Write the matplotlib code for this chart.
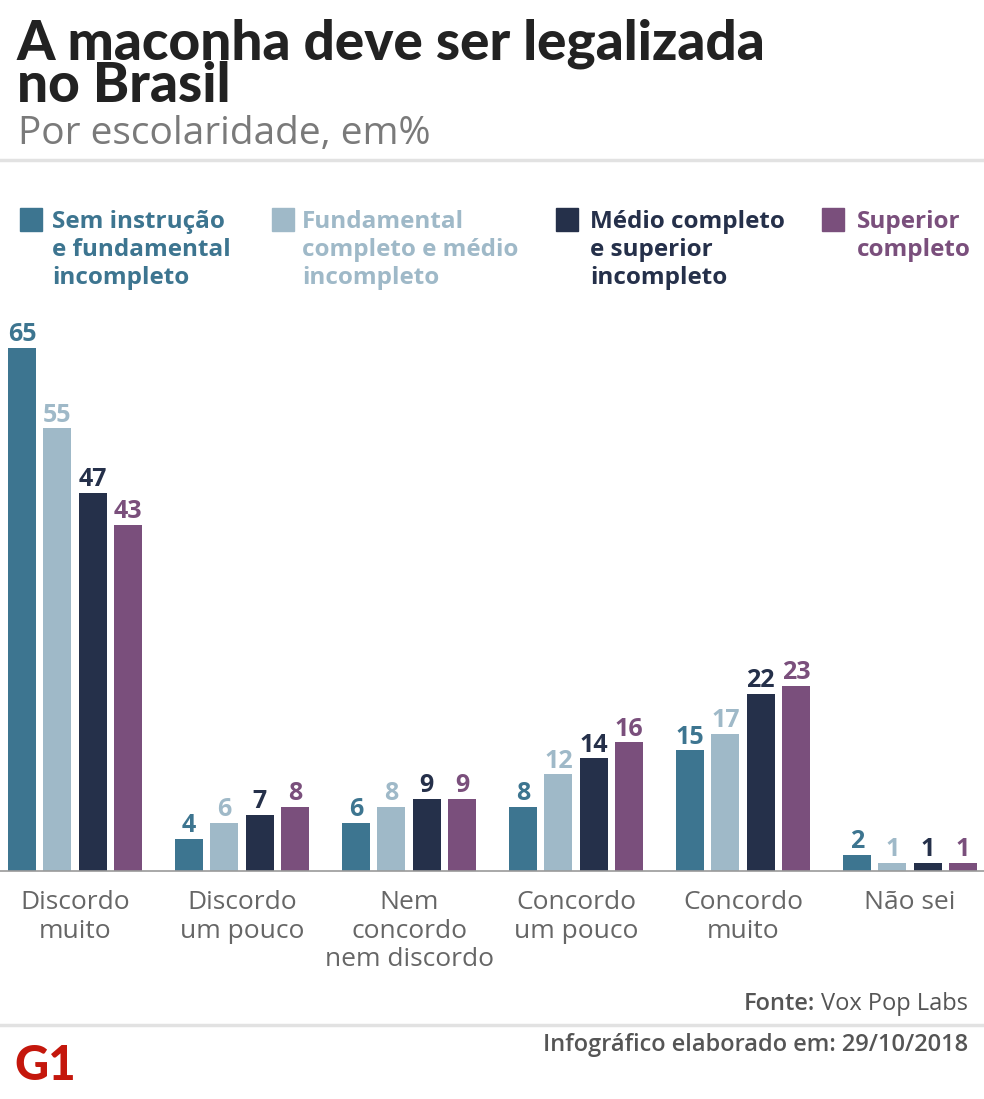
import numpy as np
import matplotlib
matplotlib.use("Agg")
import matplotlib.pyplot as plt
from matplotlib.patches import Rectangle

# data
categories = ["Discordo\nmuito", "Discordo\num pouco", "Nem\nconcordo\nnem discordo",
              "Concordo\num pouco", "Concordo\nmuito", "Não sei"]
series_names = ["Sem instrução\ne fundamental\nincompleto",
                "Fundamental\ncompleto e médio\nincompleto",
                "Médio completo\ne superior\nincompleto",
                "Superior\ncompleto"]
sem_instrucao = [65, 4, 6, 8, 15, 2]
fundamental = [55, 6, 8, 12, 17, 1]
medio = [47, 7, 9, 14, 22, 1]
superior = [43, 8, 9, 16, 23, 1]
series = [sem_instrucao, fundamental, medio, superior]
colors = ["#3d7590", "#9fb9c8", "#25304a", "#7a4f7c"]

W, H = 984, 1099
fig = plt.figure(figsize=(W / 100, H / 100), dpi=100)
fig.patch.set_facecolor("white")


def fx(x):
    return x / W


def fy(y):
    return 1 - y / H


# chart area: baseline at y=871, top at y=300
ax = fig.add_axes([0, fy(871), 1, (871 - 300) / H])
x = np.arange(len(categories))
pitch, width = 0.2114, 0.1677
for i, (vals, c) in enumerate(zip(series, colors)):
    pos = x + (i - 1.5) * pitch
    bars = ax.bar(pos, vals, width=width, color=c, zorder=2)
    for b, v in zip(bars, vals):
        ax.annotate(str(v), (b.get_x() + b.get_width() / 2, v),
                    xytext=(0, 0.5), textcoords="offset points",
                    ha="center", va="bottom", color=c,
                    fontsize=18, fontweight="bold", family="Open Sans")

ax.set_xlim(-75 / 167, 909 / 167)
ax.set_ylim(0, 571 / 8.05)
ax.set_yticks([])
ax.set_xticks(x)
ax.set_xticklabels(categories, fontsize=19, color="#666666", family="Open Sans",
                   linespacing=1.18, va="top")
ax.tick_params(axis="x", length=0, pad=14)
for s in ["top", "left", "right"]:
    ax.spines[s].set_visible(False)
ax.spines["bottom"].set_color("#9a9a9a")
ax.spines["bottom"].set_linewidth(1.2)
ax.set_facecolor("none")

# title block (va baseline anchors the last line)
fig.text(fx(17), fy(102), "A maconha deve ser legalizada\nno Brasil", fontsize=39.5,
         fontweight="black", family="Lato", color="#222222", va="baseline",
         linespacing=0.8)
fig.text(fx(18), fy(144), "Por escolaridade, em%", fontsize=28,
         family="Open Sans", color="#7a7a7a", va="baseline")

# separators
fig.add_artist(plt.Line2D([0, 1], [fy(160), fy(160)], color="#e2e2e2", lw=2.5))
fig.add_artist(plt.Line2D([0, 1], [fy(1025), fy(1025)], color="#e2e2e2", lw=2.5))

# legend
sq_x = [20, 272, 556, 822]
tx_x = [52, 302, 590, 857]
for name, c, sx, tx in zip(series_names, colors, sq_x, tx_x):
    fig.add_artist(Rectangle((fx(sx), fy(231)), 22 / W, 23 / H, color=c,
                             transform=fig.transFigure))
    fig.text(fx(tx), fy(210), name, fontsize=17.5, fontweight="bold",
             family="Open Sans", color=c, va="top", linespacing=1.21)

# footer
src = fig.text(fx(968), fy(1010), "Vox Pop Labs", fontsize=17, family="Open Sans",
               color="#555555", ha="right", va="baseline")
r = fig.canvas.get_renderer()
left = src.get_window_extent(r).x0 / W
fig.text(left - 6 / W, fy(1010), "Fonte:", fontsize=17, family="Open Sans",
         fontweight="semibold", color="#555555", ha="right", va="baseline")
fig.text(fx(968), fy(1051), "Infográfico elaborado em: 29/10/2018", fontsize=17,
         family="Open Sans", fontweight="semibold", color="#555555", ha="right",
         va="baseline")
fig.text(fx(14), fy(1080), "G1", fontsize=34, fontweight="black",
         family="Lato", color="#c4170c", va="baseline")

fig.savefig("out.png", dpi=100, facecolor="white")
